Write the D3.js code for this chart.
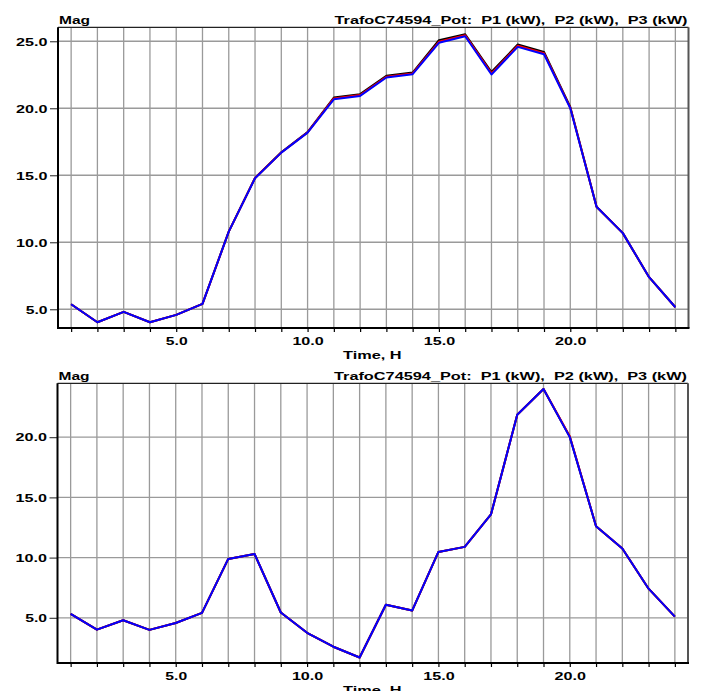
<!DOCTYPE html>
<html>
<head>
<meta charset="utf-8">
<script src="https://cdn.jsdelivr.net/npm/d3@7"></script>
<style>
  html, body { margin: 0; padding: 0; background: #ffffff; }
  svg { display: block; }
  text { font-family: "Liberation Sans", Arial, sans-serif; font-weight: bold; fill: #000; white-space: pre; }
</style>
</head>
<body>
<svg id="chart" width="701" height="691"></svg>
<script>
// ---------- data ----------
const hours = [1,2,3,4,5,6,7,8,9,10,11,12,13,14,15,16,17,18,19,20,21,22,23,24];

const topP1 = [5.37,4.03,4.80,4.03,4.58,5.40,10.79,14.80,16.72,18.22,20.80,21.05,22.42,22.66,25.08,25.52,22.70,24.76,24.20,20.10,12.65,10.68,7.39,5.15];
const topP2 = [5.37,4.03,4.80,4.03,4.58,5.40,10.79,14.79,16.70,18.20,20.73,20.98,22.35,22.60,24.96,25.44,22.60,24.66,24.10,20.05,12.65,10.68,7.39,5.15];
const topP3 = [5.37,4.03,4.80,4.03,4.58,5.40,10.79,14.78,16.69,18.18,20.67,20.92,22.29,22.54,24.88,25.37,22.52,24.58,24.03,20.00,12.65,10.68,7.39,5.15];

const botP1 = [5.33,4.02,4.80,4.00,4.57,5.41,9.89,10.30,5.44,3.76,2.60,1.71,6.08,5.60,10.47,10.89,13.58,21.86,24.00,20.04,12.61,10.75,7.42,5.10];
const botP2 = [5.33,4.02,4.80,4.00,4.57,5.41,9.89,10.30,5.44,3.76,2.60,1.71,6.08,5.60,10.47,10.89,13.58,21.86,24.00,20.08,12.61,10.75,7.42,5.10];
const botP3 = [5.33,4.02,4.80,4.00,4.57,5.41,9.89,10.30,5.44,3.76,2.60,1.71,6.08,5.60,10.47,10.89,13.58,21.86,24.00,20.00,12.61,10.75,7.42,5.10];

const xTickLabels = [5, 10, 15, 20];
const topYTicks = [5, 10, 15, 20, 25];
const botYTicks = [5, 10, 15, 20];

const titleText = "TrafoC74594_Pot:  P1 (kW),  P2 (kW),  P3 (kW)";
const yName = "Mag";
const xName = "Time, H";
const seriesColors = ["#000000", "#ff0000", "#0000ff"];

// ---------- drawing ----------
const svg = d3.select("#chart");
const fmt = d3.format(".1f");
function labelLen(s) { return (s.length - 1) * 9.6 + 2.6; }

function drawPanel(cfg) {
  const { left, right, top, bottom, yDomain, yTicks, series } = cfg;
  const x = d3.scaleLinear().domain([0.5, 24.5]).range([left, right]);
  const y = d3.scaleLinear().domain(yDomain).range([bottom, top]);
  const g = svg.append("g");

  // grid
  g.append("g").selectAll("line.v").data(hours).join("line")
    .attr("x1", d => x(d)).attr("x2", d => x(d))
    .attr("y1", top).attr("y2", bottom)
    .attr("stroke", "#9a9a9a").attr("stroke-width", 1.3);
  g.append("g").selectAll("line.h").data(yTicks).join("line")
    .attr("x1", left).attr("x2", right)
    .attr("y1", d => y(d)).attr("y2", d => y(d))
    .attr("stroke", "#9a9a9a").attr("stroke-width", 1.3);

  // x axis
  const xAxis = d3.axisBottom(x).tickValues(hours).tickSize(4).tickPadding(5)
    .tickFormat(d => xTickLabels.includes(d) ? fmt(d) : "");
  const xa = g.append("g").attr("transform", `translate(0,${bottom})`).call(xAxis);
  xa.select(".domain").remove();
  xa.selectAll(".tick line").attr("stroke", "#000").attr("stroke-width", 1.2);
  xa.selectAll(".tick text").attr("font-size", 10.5).attr("font-family", null)
    .attr("dy", "0.8em")
    .each(function() {
      const s = d3.select(this).text();
      if (s) d3.select(this).attr("textLength", labelLen(s)).attr("lengthAdjust", "spacingAndGlyphs");
    });

  // y axis
  const yAxis = d3.axisLeft(y).tickValues(yTicks).tickSize(8).tickPadding(2.5).tickFormat(fmt);
  const ya = g.append("g").attr("transform", `translate(${left},0)`).call(yAxis);
  ya.select(".domain").remove();
  ya.selectAll(".tick line").attr("stroke", "#444").attr("stroke-width", 1.2);
  ya.selectAll(".tick text").attr("font-size", 10.5).attr("font-family", null)
    .attr("dy", "0.36em")
    .each(function() {
      const s = d3.select(this).text();
      d3.select(this).attr("textLength", labelLen(s)).attr("lengthAdjust", "spacingAndGlyphs");
    });

  // frame
  g.append("line").attr("x1", left).attr("x2", right).attr("y1", top).attr("y2", top)
    .attr("stroke", "#222").attr("stroke-width", 1.2);
  g.append("line").attr("x1", right).attr("x2", right).attr("y1", top).attr("y2", bottom)
    .attr("stroke", "#555").attr("stroke-width", 2);
  g.append("line").attr("x1", left).attr("x2", left).attr("y1", top).attr("y2", bottom + 1)
    .attr("stroke", "#000").attr("stroke-width", 2);
  g.append("line").attr("x1", left).attr("x2", right + 1).attr("y1", bottom).attr("y2", bottom)
    .attr("stroke", "#000").attr("stroke-width", 2);

  // series
  const line = d3.line().x((d, i) => x(hours[i])).y(d => y(d));
  series.forEach((vals, i) => {
    g.append("path").datum(vals)
      .attr("d", line)
      .attr("fill", "none")
      .attr("stroke", seriesColors[i])
      .attr("stroke-width", 2)
      .attr("stroke-linejoin", "round");
  });

  // labels
  g.append("text").attr("x", left + 1).attr("y", top - 3).attr("font-size", 10.5)
    .attr("textLength", 31).attr("lengthAdjust", "spacingAndGlyphs").text(yName);
  g.append("text").attr("x", right - 1).attr("y", top - 3).attr("font-size", 10.5)
    .attr("text-anchor", "end")
    .attr("textLength", 353).attr("lengthAdjust", "spacingAndGlyphs").text(titleText);
  g.append("text").attr("x", 343).attr("y", bottom + 30.5).attr("font-size", 10.5)
    .attr("textLength", 58.5).attr("lengthAdjust", "spacingAndGlyphs").text(xName);
}

drawPanel({ left: 58, right: 688.5, top: 27.3, bottom: 328, yDomain: [3.6, 26.04], yTicks: topYTicks,
  series: [topP1, topP2, topP3] });
drawPanel({ left: 57.5, right: 688, top: 383.3, bottom: 663, yDomain: [1.25, 24.47], yTicks: botYTicks,
  series: [botP1, botP2, botP3] });
</script>
</body>
</html>
